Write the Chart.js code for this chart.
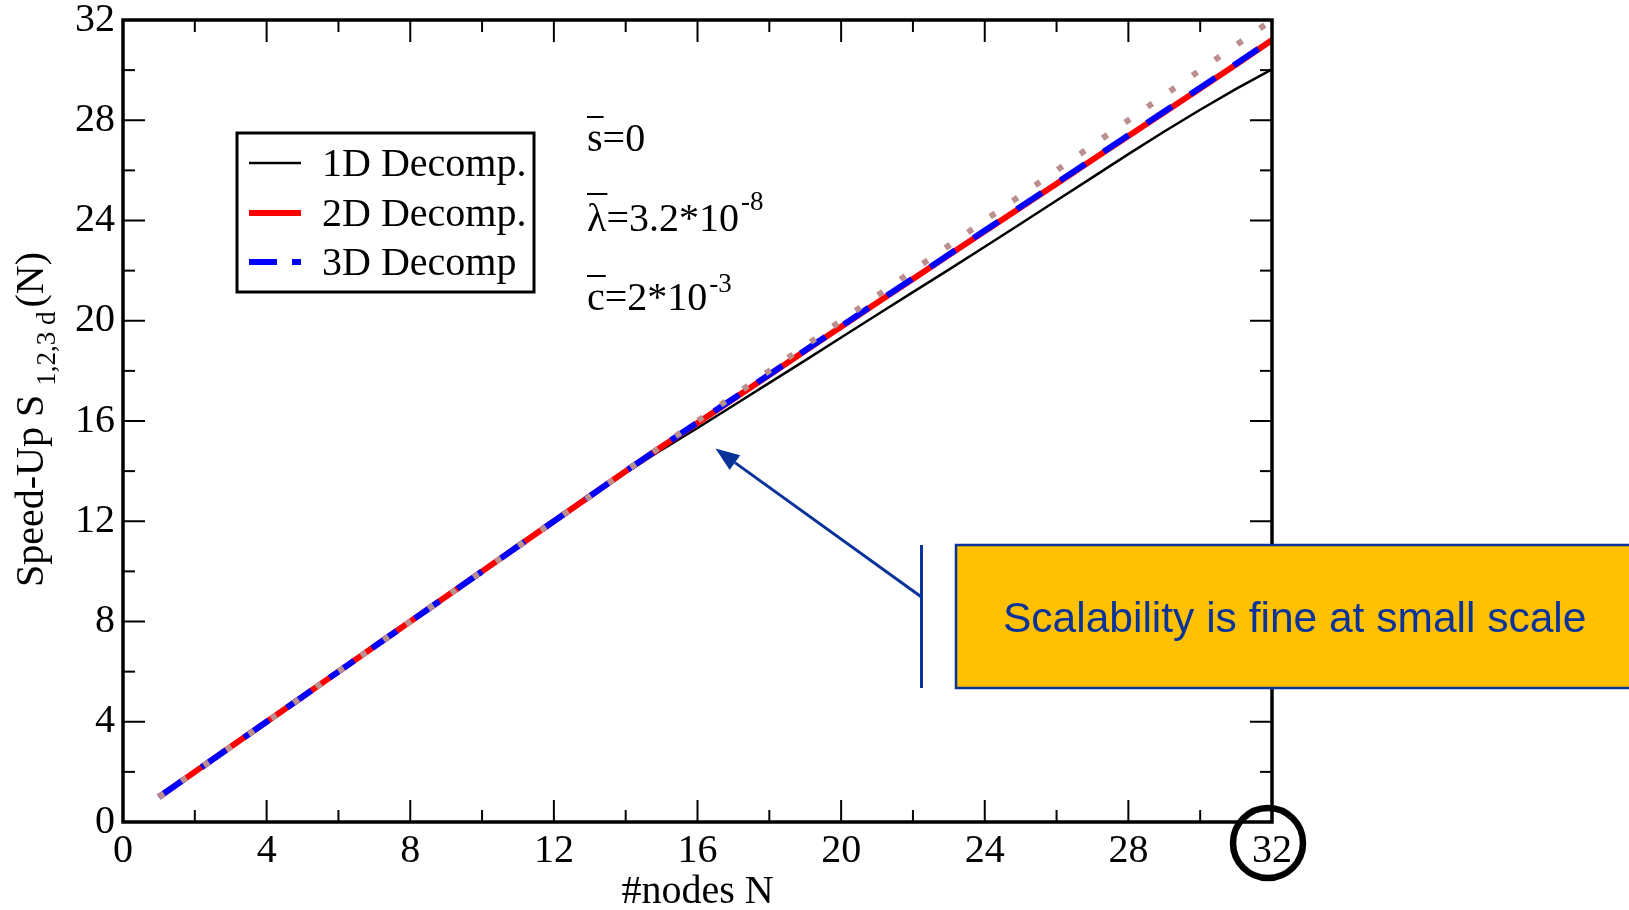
<!DOCTYPE html>
<html><head><meta charset="utf-8">
<script src="https://cdn.jsdelivr.net/npm/chart.js@4.4.1/dist/chart.umd.min.js"></script>
<style>html,body{margin:0;padding:0;background:#fff;overflow:hidden}#wrap{width:1629px;height:910px;position:relative}</style>
</head><body><div id="wrap"><canvas id="c" width="1629" height="910"></canvas></div>
<script>
// ---- data ----
const nodes = [1,2,3,4,5,6,7,8,9,10,11,12,13,14,15,16,17,18,19,20,21,22,23,24,25,26,27,28,29,30,31,32];
const idealSpeedup = [1,2,3,4,5,6,7,8,9,10,11,12,13,14,15,16,17,18,19,20,21,22,23,24,25,26,27,28,29,30,31,32];
const speedup1D = [1,2,3,4,5,6,7,8,9,10,11,11.98,12.96,13.93,14.85,15.72,16.62,17.52,18.42,19.33,20.24,21.14,22.04,22.95,23.87,24.8,25.72,26.65,27.55,28.42,29.25,30.03];
const speedup2D = [1,2,3,4,5,6,7,8,9,10,11,12,13,14,14.97,15.92,16.88,17.84,18.8,19.76,20.72,21.67,22.62,23.57,24.52,25.47,26.42,27.37,28.32,29.27,30.22,31.2];
const speedup3D = [1,2,3,4,5,6,7,8,9,10,11,12,13,14,14.98,15.94,16.9,17.86,18.82,19.78,20.74,21.69,22.64,23.6,24.55,25.5,26.45,27.4,28.35,29.3,30.25,31.22];
const xTickLabels = [0,4,8,12,16,20,24,28,32];
const yTickLabels = [0,4,8,12,16,20,24,28,32];
const xMinorTicks = [2,6,10,14,18,22,26,30];
const yMinorTicks = [2,6,10,14,18,22,26,30];
const seriesNames = ['1D Decomp.','2D Decomp.','3D Decomp'];

const SERIF = "'Liberation Serif','Times New Roman',serif";
const SANS = "'Liberation Sans',Arial,sans-serif";
const pts = arr => nodes.map((n,i)=>({x:n,y:arr[i]}));

function seg(ctx,x1,y1,x2,y2){ctx.beginPath();ctx.moveTo(x1,y1);ctx.lineTo(x2,y2);ctx.stroke();}

const decorPlugin = {
  id:'decor',
  afterDatasetsDraw(chart){
    const {ctx, chartArea:a, scales:{x,y}} = chart;
    ctx.save();
    ctx.strokeStyle='#000'; ctx.lineWidth=2; ctx.lineCap='butt';
    xTickLabels.forEach(v=>{const p=x.getPixelForValue(v); seg(ctx,p,a.bottom,p,a.bottom-22); seg(ctx,p,a.top,p,a.top+22);});
    xMinorTicks.forEach(v=>{const p=x.getPixelForValue(v); seg(ctx,p,a.bottom,p,a.bottom-12); seg(ctx,p,a.top,p,a.top+12);});
    yTickLabels.forEach(v=>{const p=y.getPixelForValue(v); seg(ctx,a.left,p,a.left+22,p); seg(ctx,a.right,p,a.right-22,p);});
    yMinorTicks.forEach(v=>{const p=y.getPixelForValue(v); seg(ctx,a.left,p,a.left+12,p); seg(ctx,a.right,p,a.right-12,p);});
    ctx.lineWidth=3.5;
    ctx.strokeRect(a.left,a.top,a.right-a.left,a.bottom-a.top);
    ctx.restore();
  },
  afterDraw(chart){
    const {ctx, chartArea:a, scales:{x,y}} = chart;
    const ds = chart.data.datasets;
    ctx.save();
    ctx.fillStyle='#000'; ctx.textAlign='left'; ctx.textBaseline='alphabetic';
    // x title
    ctx.font=`40px ${SERIF}`; ctx.textAlign='center';
    ctx.fillText('#nodes N',(a.left+a.right)/2,903);
    ctx.textAlign='left';
    // y title
    ctx.save(); ctx.translate(43,587); ctx.rotate(-Math.PI/2);
    ctx.font=`40px ${SERIF}`; let t='Speed-Up S'; ctx.fillText(t,0,0);
    let w=ctx.measureText(t).width+9;
    ctx.font=`27px ${SERIF}`; ctx.fillText('1,2,3 d',w,12); w+=ctx.measureText('1,2,3 d').width+4;
    ctx.font=`40px ${SERIF}`; ctx.fillText('(N)',w,0);
    ctx.restore();
    // legend
    ctx.lineWidth=3; ctx.strokeStyle='#000';
    ctx.strokeRect(237,133,297,159);
    const ly=[163,213,262];
    for(let i=0;i<3;i++){
      const d=ds[i];
      ctx.strokeStyle=d.borderColor; ctx.lineWidth=d.borderWidth; ctx.lineCap='butt';
      if(i===2){ ctx.setLineDash([28,15,9,30]); } else ctx.setLineDash([]);
      seg(ctx,249,ly[i],301,ly[i]);
      ctx.setLineDash([]);
      ctx.font=`40px ${SERIF}`; ctx.fillStyle='#000';
      ctx.fillText(seriesNames[i],322,ly[i]+13);
    }
    // parameter annotations
    const ax=587;
    ctx.strokeStyle='#000'; ctx.lineWidth=2;
    ctx.font=`40px ${SERIF}`;
    ctx.fillText('s=0',ax,151);
    let ws=ctx.measureText('s').width; seg(ctx,ax,117,ax+ws+1,117);
    ctx.fillText('\u03bb=3.2*10',ax,231);
    let wl=ctx.measureText('\u03bb').width; seg(ctx,ax,194,ax+wl+1,194);
    let w2=ctx.measureText('\u03bb=3.2*10').width;
    ctx.fillText('c=2*10',ax,310);
    let wc=ctx.measureText('c').width; seg(ctx,ax,276,ax+wc+1,276);
    let w3=ctx.measureText('c=2*10').width;
    ctx.font=`27px ${SERIF}`;
    ctx.fillText('-8',ax+w2+2,210);
    ctx.fillText('-3',ax+w3+2,292);
    // callout box
    const blue='#0a3399';
    ctx.fillStyle='#ffc000'; ctx.fillRect(956,545,700,143);
    ctx.strokeStyle=blue; ctx.lineWidth=2.5; ctx.strokeRect(956,545,700,143);
    ctx.fillStyle=blue; ctx.font=`42.5px ${SANS}`;
    ctx.fillText('Scalability is fine at small scale',1003,632);
    // bracket + arrow
    ctx.strokeStyle=blue; ctx.lineWidth=3;
    seg(ctx,921.5,545,921.5,688);
    const sx=921.5, sy=597;
    const tx=x.getPixelForValue(16.5), ty=y.getPixelForValue(14.9);
    const ang=Math.atan2(ty-sy,tx-sx), L=24, H=9;
    const bx=tx-L*Math.cos(ang), by=ty-L*Math.sin(ang);
    seg(ctx,sx,sy,bx,by);
    ctx.fillStyle=blue; ctx.beginPath();
    ctx.moveTo(tx,ty);
    ctx.lineTo(bx+H*Math.sin(ang),by-H*Math.cos(ang));
    ctx.lineTo(bx-H*Math.sin(ang),by+H*Math.cos(ang));
    ctx.closePath(); ctx.fill();
    // circle around last x label
    ctx.strokeStyle='#000'; ctx.lineWidth=6.5;
    ctx.beginPath(); ctx.arc(x.getPixelForValue(32)-4,843,35,0,Math.PI*2); ctx.stroke();
    ctx.restore();
  }
};

new Chart(document.getElementById('c').getContext('2d'),{
  type:'line',
  data:{datasets:[
    {label:seriesNames[0],data:pts(speedup1D),borderColor:'#000000',borderWidth:2.5,pointRadius:0,tension:0,order:3},
    {label:seriesNames[1],data:pts(speedup2D),borderColor:'#ff0000',borderWidth:6,pointRadius:0,tension:0,order:2},
    {label:seriesNames[2],data:pts(speedup3D),borderColor:'#0000ff',borderWidth:6,borderDash:[30,22],pointRadius:0,tension:0,order:1},
    {label:'ideal',data:pts(idealSpeedup),borderColor:'#bc8f8f',borderWidth:6,borderDash:[6,21.4],borderCapStyle:'butt',pointRadius:0,tension:0,order:0}
  ]},
  options:{
    responsive:false, animation:false, devicePixelRatio:1,
    layout:{padding:{top:20,right:357,left:0,bottom:0}},
    plugins:{legend:{display:false},tooltip:{enabled:false}},
    scales:{
      x:{type:'linear',min:0,max:32,
        afterBuildTicks:s=>{s.ticks=xTickLabels.map(v=>({value:v}));},
        afterFit:s=>{s.height=88;s.paddingLeft=0;s.paddingRight=0;},
        grid:{display:false,drawTicks:false},border:{display:false},
        ticks:{font:{family:SERIF,size:40},color:'#000',padding:5,maxRotation:0,autoSkip:false}},
      y:{type:'linear',min:0,max:32,
        afterBuildTicks:s=>{s.ticks=yTickLabels.map(v=>({value:v}));},
        afterFit:s=>{s.width=123;s.paddingTop=0;s.paddingBottom=0;},
        grid:{display:false,drawTicks:false},border:{display:false},
        ticks:{font:{family:SERIF,size:40},color:'#000',padding:8,autoSkip:false}}
    }
  },
  plugins:[decorPlugin]
});
</script></body></html>
